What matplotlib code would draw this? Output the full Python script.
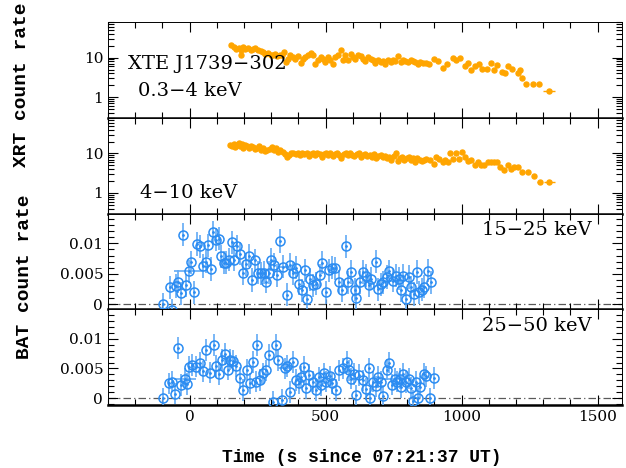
import numpy as np
import matplotlib
matplotlib.use("Agg")
import matplotlib.pyplot as plt
from matplotlib.ticker import MultipleLocator, LogLocator, FuncFormatter, NullFormatter

plt.rcParams['font.family'] = 'DejaVu Serif'

# XRT 0.3-4 keV light curve (counts/s)
t_soft = [153, 163, 172, 180, 188, 190, 196, 205, 214, 224, 233, 241, 251, 261, 270,
          278, 288, 298, 306, 315, 322, 331, 340, 347, 355, 361, 371, 380, 388, 398,
          408, 417, 425, 435, 445, 453, 462, 472, 482, 490, 499, 509, 518, 527, 536,
          545, 555, 564, 572, 582, 592, 600, 609, 619, 629, 637, 646, 656, 666, 674,
          683, 692, 702, 711, 719, 729, 739, 748, 756, 766, 776, 784, 793, 803, 813,
          821, 830, 840, 849, 858, 870, 882, 900, 915, 930, 945, 967, 980, 993, 1011,
          1022, 1036, 1050, 1066, 1077, 1092, 1110, 1120, 1130, 1147, 1158, 1169, 1185,
          1206, 1216, 1224, 1238, 1261, 1285, 1320]
r_soft = [20.5, 18.6, 16.9, 18.0, 15.3, 12.0, 18.6, 17.0, 18.0, 16.0, 17.0, 18.0, 15.3,
          14.8, 13.9, 12.6, 13.0, 11.4, 12.0, 12.6, 10.8, 11.4, 12.0, 13.9, 7.7, 9.4,
          11.4, 10.4, 9.4, 10.8, 7.3, 9.4, 10.4, 12.0, 13.0, 11.4, 7.0, 8.9, 10.4, 9.4,
          7.7, 10.4, 8.9, 7.0, 10.4, 11.4, 15.3, 8.9, 11.4, 8.5, 12.6, 10.4, 9.4, 12.0,
          10.8, 9.4, 8.2, 10.4, 9.4, 8.5, 7.3, 8.9, 7.7, 8.2, 7.0, 8.5, 7.7, 8.9, 8.2,
          10.8, 7.7, 8.9, 8.2, 7.7, 8.5, 8.2, 7.7, 7.0, 7.7, 7.3, 7.2, 7.0, 9.0, 8.0,
          5.6, 7.0, 10.0, 8.5, 10.0, 6.0, 7.5, 5.0, 6.0, 7.0, 5.3, 5.3, 7.5, 5.0, 6.6,
          4.4, 4.2, 6.3, 5.3, 4.0, 5.0, 3.0, 2.2, 2.2, 2.2, 1.45]
xe_soft_idx = [len(t_soft) - 1]
xe_soft_val = [22]

# XRT 4-10 keV light curve (counts/s)
t_hard = [150, 156, 162, 168, 174, 180, 186, 192, 198, 205, 212, 219, 226, 233, 240,
          247, 254, 262, 270, 278, 286, 294, 302, 310, 318, 326, 334, 342, 350, 358,
          366, 374, 382, 390, 398, 406, 414, 422, 430, 438, 446, 454, 462, 470, 478,
          486, 494, 502, 510, 518, 526, 534, 542, 550, 558, 566, 574, 582, 590, 598,
          606, 614, 622, 630, 638, 646, 654, 662, 670, 678, 686, 694, 702, 710, 718,
          726, 734, 742, 750, 758, 766, 774, 782, 790, 798, 806, 814, 822, 830, 838,
          846, 854, 862, 870, 884, 897, 907, 918, 931, 940, 950, 958, 968, 980, 990,
          1003, 1011, 1023, 1035, 1048, 1060, 1072, 1084, 1096, 1108, 1121, 1130, 1143,
          1156, 1169, 1181, 1194, 1208, 1224, 1243, 1267, 1287, 1323]
r_hard = [16.5, 15.0, 17.5, 14.5, 16.0, 18.0, 15.5, 17.0, 14.0, 16.5, 15.0, 13.5, 15.5,
          14.5, 13.0, 14.0, 15.0, 12.5, 13.5, 11.5, 12.0, 13.0, 14.5, 12.0, 13.5, 11.0,
          12.5, 11.0, 9.5, 8.0, 9.0, 10.0, 10.5, 9.5, 10.0, 9.0, 10.5, 9.5, 10.0, 8.5,
          9.5, 10.5, 9.0, 10.0, 9.5, 8.0, 9.5, 10.0, 9.0, 10.5, 8.5, 9.5, 10.0, 9.0,
          7.5, 9.5, 10.0, 9.0, 10.5, 9.0, 8.5, 9.5, 10.0, 8.0, 9.0, 9.5, 8.5, 9.0, 8.0,
          9.5, 7.5, 8.5, 9.0, 8.0, 8.5, 7.5, 8.0, 7.0, 8.5, 10.0, 6.5, 7.5, 8.0, 7.0,
          7.5, 8.0, 7.0, 7.5, 6.0, 7.5, 7.0, 6.5, 7.0, 7.2, 6.8, 5.5, 7.9, 7.4, 5.9,
          7.0, 5.9, 10.0, 7.4, 10.0, 7.4, 10.6, 7.9, 6.6, 7.0, 5.2, 6.2, 5.2, 5.2, 5.9,
          6.2, 6.2, 5.9, 4.6, 3.7, 5.0, 4.1, 4.6, 4.6, 3.3, 3.3, 2.7, 1.9, 1.9]
xe_hard_idx = [len(t_hard) - 2, len(t_hard) - 1]
xe_hard_val = [9, 20]

# BAT 15-25 keV (counts/s/det)
t_b1 = [-98, -71, -64, -51, -43, -33, -24, -12, -2, 6, 18, 27, 39, 49, 59, 67, 77, 86,
        98, 107, 116, 125, 135, 145, 157, 165, 174, 184, 198, 208, 218, 229, 241, 251,
        261, 272, 282, 292, 300, 309, 321, 331, 343, 358, 370, 380, 392, 404, 414, 423,
        431, 441, 453, 466, 478, 488, 500, 512, 525, 533, 549, 561, 575, 582, 595, 607,
        613, 625, 637, 650, 659, 668, 684, 692, 702, 713, 725, 735, 747, 760, 769, 778,
        786, 796, 806, 815, 824, 836, 845, 855, 863, 875, 886]
r_b1 = [0.0000, 0.0028, -0.0010, 0.0030, 0.0037, 0.0018, 0.0114, 0.0031, 0.0054, 0.0069,
        0.0020, 0.0099, 0.0095, 0.0063, 0.0070, 0.0097, 0.0058, 0.0118, 0.0106, 0.0108,
        0.0079, 0.0068, 0.0068, 0.0073, 0.0102, 0.0073, 0.0095, 0.0083, 0.0051, 0.0066,
        0.0080, 0.0040, 0.0072, 0.0052, 0.0051, 0.0052, 0.0037, 0.0052, 0.0073, 0.0065,
        0.0048, 0.0104, 0.0062, 0.0016, 0.0065, 0.0051, 0.0060, 0.0034, 0.0023, 0.0056,
        0.0009, 0.0041, 0.0031, 0.0034, 0.0048, 0.0068, 0.0020, 0.0056, 0.0060, 0.0059,
        0.0037, 0.0023, 0.0095, 0.0036, 0.0053, 0.0024, 0.0010, 0.0036, 0.0053, 0.0047,
        0.0031, 0.0042, 0.0070, 0.0025, 0.0033, 0.0036, 0.0045, 0.0054, 0.0039, 0.0047,
        0.0042, 0.0023, 0.0047, 0.0009, 0.0045, 0.0028, 0.0017, 0.0053, 0.0020, 0.0024,
        0.0029, 0.0055, 0.0036]
e_b1 = 0.0019
xe_b1_idx = [8, 42, 78]
xe_b1_val = [55, 22, 40]

# BAT 25-50 keV (counts/s/det)
t_b2 = [-98, -76, -64, -55, -43, -31, -18, -10, -2, 10, 25, 37, 49, 59, 74, 88, 98,
        108, 120, 130, 141, 147, 159, 172, 186, 198, 211, 221, 233, 243, 249, 260, 270,
        282, 292, 306, 316, 325, 341, 349, 358, 370, 380, 392, 402, 411, 419, 429, 439,
        453, 466, 475, 484, 493, 502, 515, 525, 539, 551, 564, 578, 586, 595, 603, 613,
        622, 637, 647, 659, 665, 674, 684, 692, 705, 713, 725, 733, 745, 754, 762, 772,
        778, 786, 796, 806, 815, 821, 831, 840, 849, 861, 871, 885, 897]
r_b2 = [0.0000, 0.0025, 0.0028, 0.0008, 0.0084, 0.0022, 0.0033, 0.0024, 0.0053, 0.0056,
        0.0053, 0.0059, 0.0045, 0.0081, 0.0043, 0.0089, 0.0054, 0.0041, 0.0065, 0.0074,
        0.0048, 0.0065, 0.0063, 0.0054, 0.0034, 0.0014, 0.0048, 0.0025, 0.0061, 0.0028,
        0.0089, 0.0031, 0.0042, 0.0047, 0.0073, -0.0006, 0.0089, 0.0064, -0.0003, 0.0050,
        0.0054, 0.0011, 0.0061, 0.0031, 0.0025, 0.0036, 0.0053, 0.0017, 0.0039, 0.0028,
        0.0014, 0.0035, 0.0022, 0.0042, 0.0028, 0.0037, 0.0025, 0.0014, 0.0047, 0.0050,
        0.0061, 0.0047, 0.0033, 0.0041, 0.0005, 0.0039, 0.0030, 0.0016, 0.0050, 0.0000,
        0.0028, 0.0020, 0.0036, 0.0027, 0.0004, 0.0048, 0.0060, 0.0023, 0.0033, 0.0028,
        0.0033, 0.0019, 0.0041, 0.0027, 0.0033, 0.0017, -0.0004, 0.0028, 0.0000, 0.0019,
        0.0041, 0.0037, 0.0000, 0.0034]
e_b2 = 0.0018
xe_b2_idx = [6, 39, 78]
xe_b2_val = [40, 25, 45]

labels_xrt = ["0.3\u22124 keV", "4\u221210 keV"]
labels_bat = ["15\u221225 keV", "25\u221250 keV"]

orange = '#ffa500'
blue = '#2b8cf2'
blue_err = '#62aaf5'

W, H = 626, 468
fig = plt.figure(figsize=(W / 100, H / 100), dpi=100)

left, right = 108 / W, 622 / W
top, bottom = 1 - 22 / H, 1 - 405 / H
ph = (top - bottom) / 4
axes = []
for i in range(4):
    y0 = top - (i + 1) * ph
    if i == 0:
        ax = fig.add_axes([left, y0, right - left, ph])
    else:
        ax = fig.add_axes([left, y0, right - left, ph], sharex=axes[0])
    axes.append(ax)


def xerr_list(n, idx, val):
    xe = np.zeros(n)
    for k, v in zip(idx, val):
        xe[k] = v
    return xe


def style(ax):
    ax.tick_params(which='both', direction='in', top=True, right=True, labelsize=11,
                   width=0.8, colors='black')
    ax.tick_params(which='major', length=7)
    ax.tick_params(which='minor', length=4)
    for s in ['top', 'left', 'right']:
        ax.spines[s].set_linewidth(0.7)
    ax.spines['bottom'].set_linewidth(1.8)
    ax.xaxis.set_major_locator(MultipleLocator(500))
    ax.xaxis.set_minor_locator(MultipleLocator(100))


# XRT panels
xrt = [(t_soft, r_soft, xe_soft_idx, xe_soft_val), (t_hard, r_hard, xe_hard_idx, xe_hard_val)]
for ax, (t, r, xi, xv), lab in zip(axes[:2], xrt, labels_xrt):
    ax.errorbar(t, r, xerr=xerr_list(len(t), xi, xv), fmt='o', ms=3.6, color=orange,
                mec=orange, ecolor=orange, elinewidth=1.0, capsize=0)
    ax.set_yscale('log')
    ax.set_ylim(0.3, 80)
    ax.yaxis.set_major_locator(LogLocator(base=10))
    ax.yaxis.set_minor_locator(LogLocator(base=10, subs=np.arange(2, 10)))
    ax.yaxis.set_major_formatter(FuncFormatter(lambda v, p: '%g' % v))
    ax.yaxis.set_minor_formatter(NullFormatter())
    style(ax)

axes[0].text(20 / 514, 0.56, "XTE J1739\u2212302", transform=axes[0].transAxes,
             fontsize=14, va='center', ha='left')
axes[0].text(30 / 514, 0.28, labels_xrt[0], transform=axes[0].transAxes,
             fontsize=14, va='center', ha='left')
axes[1].text(32 / 514, 0.21, labels_xrt[1], transform=axes[1].transAxes,
             fontsize=14, va='center', ha='left')

# BAT panels
bat = [(t_b1, r_b1, e_b1, xe_b1_idx, xe_b1_val, -0.0008),
       (t_b2, r_b2, e_b2, xe_b2_idx, xe_b2_val, -0.0011)]
for ax, (t, r, e, xi, xv, ylo), lab in zip(axes[2:], bat, labels_bat):
    ax.axhline(0, color='0.35', lw=0.9, dashes=(6, 2.5, 1, 2.5), zorder=1)
    ax.errorbar(t, r, yerr=e, xerr=xerr_list(len(t), xi, xv), fmt='o', ms=6.5,
                mfc='none', mec=blue, mew=1.1, ecolor=blue_err, elinewidth=1.2,
                capsize=0, zorder=3)
    ax.plot(t, r, ls='none', marker='.', ms=2, color=blue, zorder=4)
    ax.set_ylim(ylo, 0.0149)
    ax.yaxis.set_major_locator(MultipleLocator(0.005))
    ax.yaxis.set_minor_locator(MultipleLocator(0.001))
    ax.yaxis.set_major_formatter(FuncFormatter(lambda v, p: '%g' % round(v, 4)))
    style(ax)
    ax.text(0.94, 0.83, lab, transform=ax.transAxes, fontsize=14, va='center', ha='right')

axes[0].set_xlim(-300, 1590)
for ax in axes[:3]:
    ax.tick_params(labelbottom=False)

mono = ['Liberation Mono', 'DejaVu Sans Mono']
fig.text(22 / W, 1 - 85 / H, "XRT count rate", rotation=90, ha='center', va='center',
         family=mono, fontweight='bold', fontsize=14)
fig.text(25 / W, 1 - 277 / H, "BAT count rate", rotation=90, ha='center', va='center',
         family=mono, fontweight='bold', fontsize=14)
fig.text(362 / W, 1 - 458 / H, "Time (s since 07:21:37 UT)", ha='center', va='center',
         family=mono, fontweight='bold', fontsize=13)

fig.savefig("out.png", dpi=100)
